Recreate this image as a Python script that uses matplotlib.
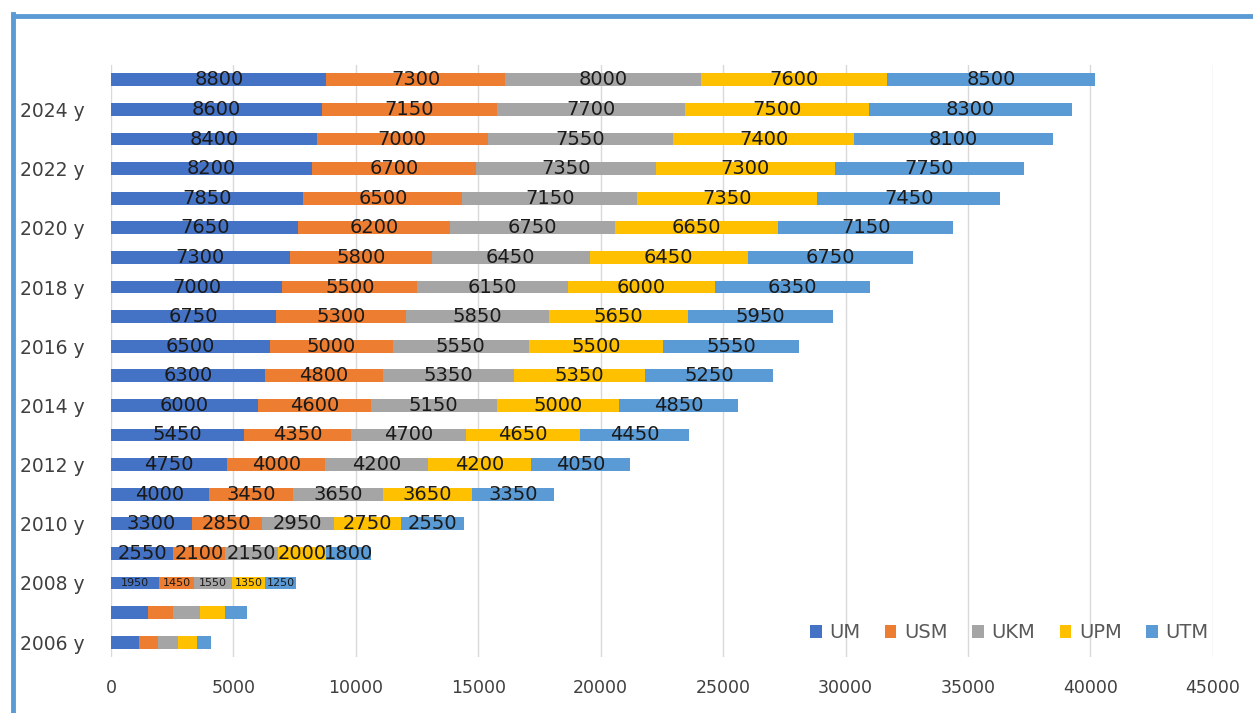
import matplotlib
matplotlib.use("Agg")
import matplotlib.pyplot as plt
from matplotlib.lines import Line2D
import numpy as np

years = ["2006 y", "2007 y", "2008 y", "2009 y", "2010 y", "2011 y", "2012 y", "2013 y",
         "2014 y", "2015 y", "2016 y", "2017 y", "2018 y", "2019 y", "2020 y", "2021 y",
         "2022 y", "2023 y", "2024 y", "2025 y"]
series_names = ["UM", "USM", "UKM", "UPM", "UTM"]
um  = [1150, 1500, 1950, 2550, 3300, 4000, 4750, 5450, 6000, 6300, 6500, 6750, 7000, 7300, 7650, 7850, 8200, 8400, 8600, 8800]
usm = [750, 1050, 1450, 2100, 2850, 3450, 4000, 4350, 4600, 4800, 5000, 5300, 5500, 5800, 6200, 6500, 6700, 7000, 7150, 7300]
ukm = [850, 1100, 1550, 2150, 2950, 3650, 4200, 4700, 5150, 5350, 5550, 5850, 6150, 6450, 6750, 7150, 7350, 7550, 7700, 8000]
upm = [750, 1000, 1350, 2000, 2750, 3650, 4200, 4650, 5000, 5350, 5500, 5650, 6000, 6450, 6650, 7350, 7300, 7400, 7500, 7600]
utm = [600, 900, 1250, 1800, 2550, 3350, 4050, 4450, 4850, 5250, 5550, 5950, 6350, 6750, 7150, 7450, 7750, 8100, 8300, 8500]
x_ticks = [0, 5000, 10000, 15000, 20000, 25000, 30000, 35000, 40000, 45000]

colors = ["#4472C4", "#ED7D31", "#A5A5A5", "#FFC000", "#5B9BD5"]
data = [um, usm, ukm, upm, utm]

fig = plt.figure(figsize=(12.53, 7.13), dpi=100)
ax = fig.add_axes([0.0886, 0.0786, 0.968 - 0.0886, 0.9088 - 0.0786])

y = np.arange(len(years))
left = np.zeros(len(years))
for name, vals, c in zip(series_names, data, colors):
    vals = np.array(vals, dtype=float)
    bars = ax.barh(y, vals, left=left, height=0.43, color=c, label=name, zorder=3)
    for i, (b, v) in enumerate(zip(bars, vals)):
        if i < 2:
            continue
        fs = 8 if i == 2 else 14
        ax.text(left[i] + v / 2, y[i], f"{int(v)}", ha="center", va="center",
                fontsize=fs, color="#1a1a1a", zorder=4)
    left += vals

ax.set_xlim(0, 45000)
ax.set_ylim(-0.5, len(years) - 0.5)
ax.set_xticks(x_ticks)
ax.set_xticklabels([str(t) for t in x_ticks], fontsize=12.5, color="#404040")
ax.set_yticks(y)
ax.set_yticklabels([lab if i % 2 == 0 else "" for i, lab in enumerate(years)],
                   fontsize=13.5, color="#404040")
ax.tick_params(axis="both", length=0)
ax.tick_params(axis="x", pad=16)
ax.tick_params(axis="y", pad=19)
ax.grid(axis="x", color="#D9D9D9", linewidth=1, zorder=0)
for s in ax.spines.values():
    s.set_visible(False)

leg = ax.legend(loc="lower right", bbox_to_anchor=(1.012, -0.005), ncol=5, frameon=False,
                fontsize=14, handlelength=0.6, handleheight=0.6, columnspacing=1.25,
                handletextpad=0.4, labelcolor="#595959")

# frame lines (blue border at left and top)
fig.add_artist(Line2D([0.0105, 0.0105], [0.0, 0.980], transform=fig.transFigure,
                      color="#5B9BD5", linewidth=3.5))
fig.add_artist(Line2D([0.0105, 1.0], [0.978, 0.978], transform=fig.transFigure,
                      color="#5B9BD5", linewidth=3.5))

fig.savefig("out.png", dpi=100)
